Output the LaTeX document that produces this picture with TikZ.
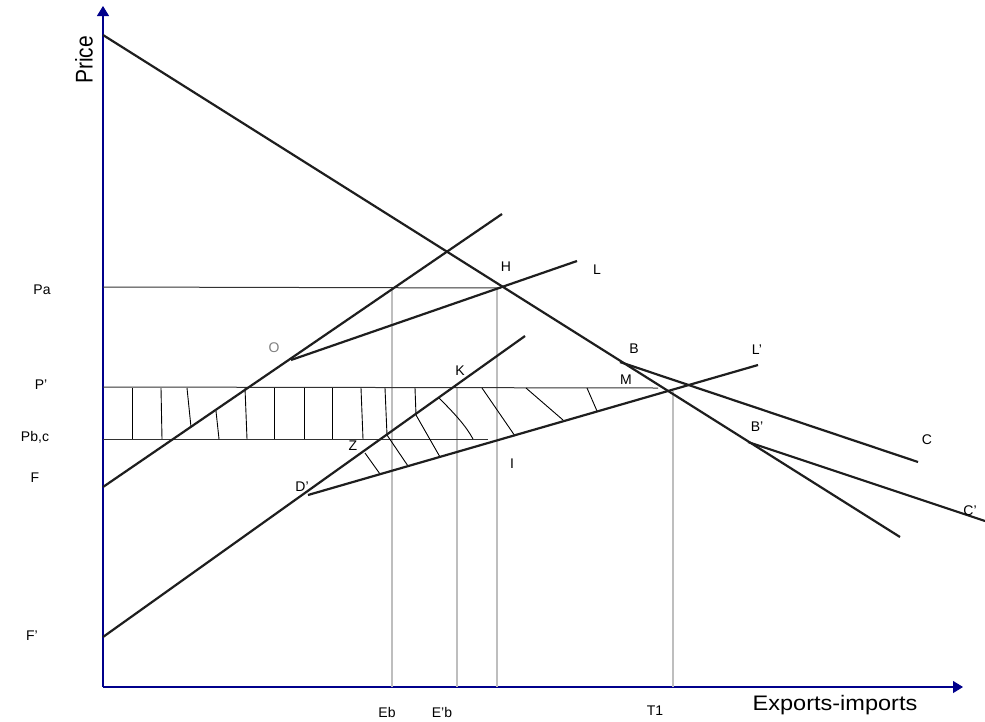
\documentclass[tikz,border=0pt]{standalone}
\usepackage{fontspec}
\usepackage{graphicx}
\setmainfont{Liberation Sans}
\usetikzlibrary{arrows.meta}
\definecolor{axisblue}{RGB}{0,0,140}
\definecolor{mainline}{RGB}{30,30,30}
\definecolor{guide}{RGB}{190,190,190}
\definecolor{levelline}{RGB}{50,50,50}
\begin{document}
\begin{tikzpicture}[x=1pt,y=-1pt,
  axis/.style={draw=axisblue,line width=1.1pt,-{Triangle[length=10pt,width=12pt]}},
  curve/.style={draw=mainline,line width=2.2pt},
  level/.style={draw=levelline,line width=1pt},
  guideline/.style={draw=guide,line width=1.5pt},
  hatch/.style={draw=black,line width=0.9pt},
  lbl/.style={font=\fontsize{14}{16}\selectfont,inner sep=0pt},
  biglbl/.style={font=\fontsize{21}{23}\selectfont,inner sep=0pt}]
\useasboundingbox (0,0) rectangle (985,721);
% axes
\coordinate (O) at (103,687);
\coordinate (ytip) at (103,6);
\coordinate (xtip) at (963,687);
\draw[axis] (O) -- (ytip);
\draw[axis] (O) -- (xtip);
\node[biglbl,rotate=90] (price) at (84,60) {\scalebox{1}[1.15]{Price}};
\node[biglbl] (exim) at (835,705) {\scalebox{1.12}[1]{Exports-imports}};
% key points
\coordinate (Dtop) at (103,35);
\coordinate (Dend) at (900,537);
\coordinate (F) at (103,487);
\coordinate (Send) at (502,214);
\coordinate (Ostart) at (291,360);
\coordinate (Lend) at (577,261);
\coordinate (Fp) at (103,637);
\coordinate (Spend) at (525,336);
\coordinate (Dp) at (308,495);
\coordinate (Lpend) at (758,365);
\coordinate (B) at (620,362);
\coordinate (C) at (918,462);
\coordinate (Bp) at (748,442);
\coordinate (Cp) at (985,521);
\coordinate (H) at (501,288);
\coordinate (M) at (668,389);
% guides
\coordinate (Ebtop) at (392,288);
\coordinate (Eb) at (392,687);
\coordinate (Epbtop) at (457,388);
\coordinate (Epb) at (457,687);
\coordinate (Htop) at (497,288);
\coordinate (Hb) at (497,687);
\coordinate (T1top) at (673,391);
\coordinate (T1b) at (673,687);
\draw[guideline] (Ebtop) -- (Eb);
\draw[guideline] (Epbtop) -- (Epb);
\draw[guideline] (Htop) -- (Hb);
\draw[guideline] (T1top) -- (T1b);
% price levels
\coordinate (Pa) at (103,287);
\coordinate (Pp) at (103,387);
\coordinate (Ppend) at (658,388);
\coordinate (Pbc) at (103,439);
\coordinate (Pbcend) at (488,439);
\draw[level] (Pa) -- (H);
\draw[level] (Pp) -- (Ppend);
\draw[level] (Pbc) -- (Pbcend);
% hatching
\draw[hatch] (132,388) -- (132,439);
\draw[hatch] (161,388) -- (162,439);
\draw[hatch] (187,388) -- (191,427);
\draw[hatch] (216,411) -- (219,439);
\draw[hatch] (245,388) -- (247,439);
\draw[hatch] (274,388) -- (274,439);
\draw[hatch] (304,388) -- (304,439);
\draw[hatch] (332,388) -- (332,439);
\draw[hatch] (361,388) -- (363,439);
\draw[hatch] (385,388) -- (387,435) -- (408,466);
\draw[hatch] (415,388) -- (416,415) -- (440,457);
\draw[hatch] (365,453) -- (380,474);
\draw[hatch] (439,398) .. controls (455,414) and (466,426) .. (473,439);
\draw[hatch] (482,388) -- (515,436);
\draw[hatch] (526,388) -- (563,420);
\draw[hatch] (587,388) -- (597,411);
% main lines
\draw[curve] (Dtop) -- (Dend);
\draw[curve] (F) -- (Send);
\draw[curve] (Ostart) -- (Lend);
\draw[curve] (Fp) -- (Spend);
\draw[curve] (Dp) -- (Lpend);
\draw[curve] (B) -- (C);
\draw[curve] (Bp) -- (Cp);
% labels
\node[lbl] (lPa) at (42,290) {Pa};
\node[lbl] (lPp) at (41,385) {P'};
\node[lbl] (lPbc) at (35,437) {Pb,c};
\node[lbl] (lF) at (35,478) {F};
\node[lbl] (lFp) at (32,636) {F'};
\node[lbl,text=gray] (lO) at (274,348) {O};
\node[lbl] (lH) at (506,267) {H};
\node[lbl] (lL) at (597,270) {L};
\node[lbl] (lB) at (634,349) {B};
\node[lbl] (lLp) at (757,350) {L'};
\node[lbl] (lK) at (460,371) {K};
\node[lbl] (lM) at (626,380) {M};
\node[lbl] (lBp) at (757,427) {B'};
\node[lbl] (lC) at (927,440) {C};
\node[lbl] (lCp) at (970,511) {C'};
\node[lbl] (lZ) at (353,446) {Z};
\node[lbl] (lI) at (512,464) {I};
\node[lbl] (lDp) at (302,487) {D'};
\node[lbl] (lEb) at (387,712) {Eb};
\node[lbl] (lEpb) at (442,712) {E'b};
\node[lbl] (lT1) at (655,711) {T1};
\end{tikzpicture}
\end{document}
